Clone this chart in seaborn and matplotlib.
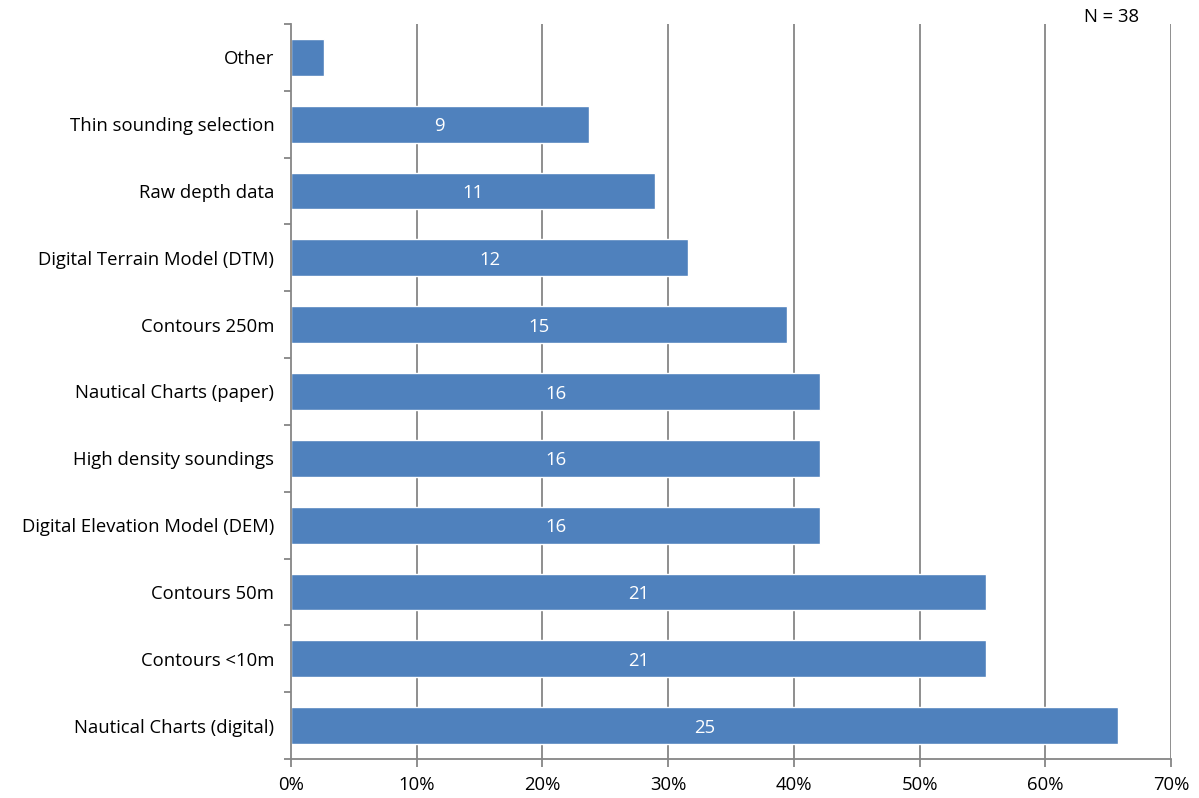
import matplotlib
matplotlib.use("Agg")
import matplotlib.pyplot as plt
import matplotlib.ticker as mticker
import seaborn as sns
import pandas as pd

categories = [
    "Other",
    "Thin sounding selection",
    "Raw depth data",
    "Digital Terrain Model (DTM)",
    "Contours 250m",
    "Nautical Charts (paper)",
    "High density soundings",
    "Digital Elevation Model (DEM)",
    "Contours 50m",
    "Contours <10m",
    "Nautical Charts (digital)",
]
counts = [1, 9, 11, 12, 15, 16, 16, 16, 21, 21, 25]
n_total = 38
x_ticks = [0, 0.1, 0.2, 0.3, 0.4, 0.5, 0.6, 0.7]

df = pd.DataFrame({"category": categories, "count": counts})
df["share"] = df["count"] / n_total

sns.set_theme(style="white")
plt.rcParams["font.family"] = ["Open Sans", "DejaVu Sans"]

fig = plt.figure(figsize=(11.99, 7.98), dpi=100)
ax = fig.add_axes([291 / 1199, 1 - 759 / 798, 880 / 1199, 735 / 798])

bar_color = "#4F81BD"
grid_color = "#868686"
fs = 13.3

sns.barplot(data=df, x="share", y="category", order=categories, orient="h",
            color=bar_color, saturation=1, width=0.55, ax=ax, zorder=3)

ax.set_xlim(0, 0.7)
ax.set_ylim(len(categories) - 0.5, -0.5)
ax.set_xticks(x_ticks)
ax.xaxis.set_major_formatter(mticker.PercentFormatter(xmax=1, decimals=0))
ax.set_xlabel("")
ax.set_ylabel("")

# vertical gridlines
for t in x_ticks[1:]:
    ax.axvline(t, color=grid_color, lw=1.3, zorder=1)

for side in ["top", "right"]:
    ax.spines[side].set_visible(False)
ax.spines["left"].set_color(grid_color)
ax.spines["left"].set_linewidth(1.3)
ax.spines["bottom"].set_color(grid_color)
ax.spines["bottom"].set_linewidth(1.3)
ax.spines["left"].set_zorder(4)

# y ticks sit on category boundaries, labels centred on bars
ax.set_yticks([i for i in range(len(categories))])
ax.set_yticklabels(categories)
ax.tick_params(axis="y", which="major", left=False, length=0, pad=12,
               labelsize=fs, labelcolor="#000000")
ax.set_yticks([i - 0.5 for i in range(len(categories) + 1)], minor=True)
ax.tick_params(axis="y", which="minor", left=True, length=5, width=1.3,
               color=grid_color, direction="out")
ax.tick_params(axis="x", which="major", bottom=True, length=6, width=1.3,
               color=grid_color, direction="out", labelsize=fs,
               labelcolor="#000000", pad=6)

# value labels inside bars
for i, (c, s) in enumerate(zip(counts, df["share"])):
    if c > 1:
        ax.text(s / 2, i + 0.03, str(c), ha="center", va="center", color="white",
                fontsize=fs, zorder=5)

fig.text(1112 / 1199, 1 - 17 / 798, f"N = {n_total}", ha="center", va="center",
         fontsize=fs, color="#000000")

fig.savefig("out.png", dpi=100, facecolor="white")
